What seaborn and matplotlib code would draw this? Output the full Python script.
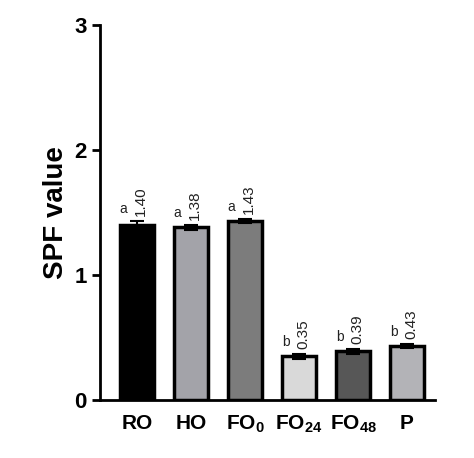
import matplotlib
matplotlib.use("Agg")
import matplotlib.pyplot as plt
import seaborn as sns
import pandas as pd

# Data
samples = ["RO", "HO", "FO$_0$", "FO$_{24}$", "FO$_{48}$", "P"]
spf_values = [1.40, 1.38, 1.43, 0.35, 0.39, 0.43]
spf_errors = [0.03, 0.02, 0.015, 0.02, 0.02, 0.015]
letters = ["a", "a", "a", "b", "b", "b"]
bar_colors = ["#000000", "#a2a2aa", "#7c7c7c", "#d9d9d9", "#575757", "#b2b2b8"]

sns.set_style("ticks")
plt.rcParams['font.family'] = ['Liberation Sans', 'DejaVu Sans']
plt.rcParams['mathtext.fontset'] = 'custom'
plt.rcParams['mathtext.rm'] = 'Liberation Sans:bold'
plt.rcParams['mathtext.it'] = 'Liberation Sans:bold'
plt.rcParams['mathtext.bf'] = 'Liberation Sans:bold'

df = pd.DataFrame({"sample": samples, "spf": spf_values})

fig = plt.figure(figsize=(4.74, 4.58), dpi=100)
ax = fig.add_axes([0.211, 0.127, 0.707, 0.818])

sns.barplot(data=df, x="sample", y="spf", hue="sample", palette=bar_colors,
            legend=False, width=0.64, edgecolor="black", linewidth=2.5, ax=ax)
ax.errorbar(range(len(samples)), spf_values, yerr=spf_errors, fmt="none",
            ecolor="black", elinewidth=1.5, capsize=5, capthick=1.5)

for i, (v, e, l) in enumerate(zip(spf_values, spf_errors, letters)):
    ax.text(i - 0.25, v + e + 0.04, l, ha="center", va="bottom", fontsize=10, color="#222222")
    ax.text(i + 0.08, v + e + 0.04, f"{v:.2f}", ha="center", va="bottom",
            rotation=90, fontsize=11, color="#222222")

ax.set_ylim(0, 3)
ax.set_xlim(-0.685, 5.52)
ax.set_yticks([0, 1, 2, 3])
ax.set_xlabel("")
ax.set_ylabel("SPF value", fontsize=20, fontweight="bold", color="black")
ax.tick_params(axis="y", labelsize=16, width=2, length=6, colors="black")
ax.tick_params(axis="x", labelsize=15, width=0, length=0, pad=10, colors="black")
for lbl in ax.get_xticklabels() + ax.get_yticklabels():
    lbl.set_fontweight("bold")
for side in ["left", "bottom"]:
    ax.spines[side].set_linewidth(2)
    ax.spines[side].set_color("black")
sns.despine(ax=ax)

fig.savefig("out.png", dpi=100)
